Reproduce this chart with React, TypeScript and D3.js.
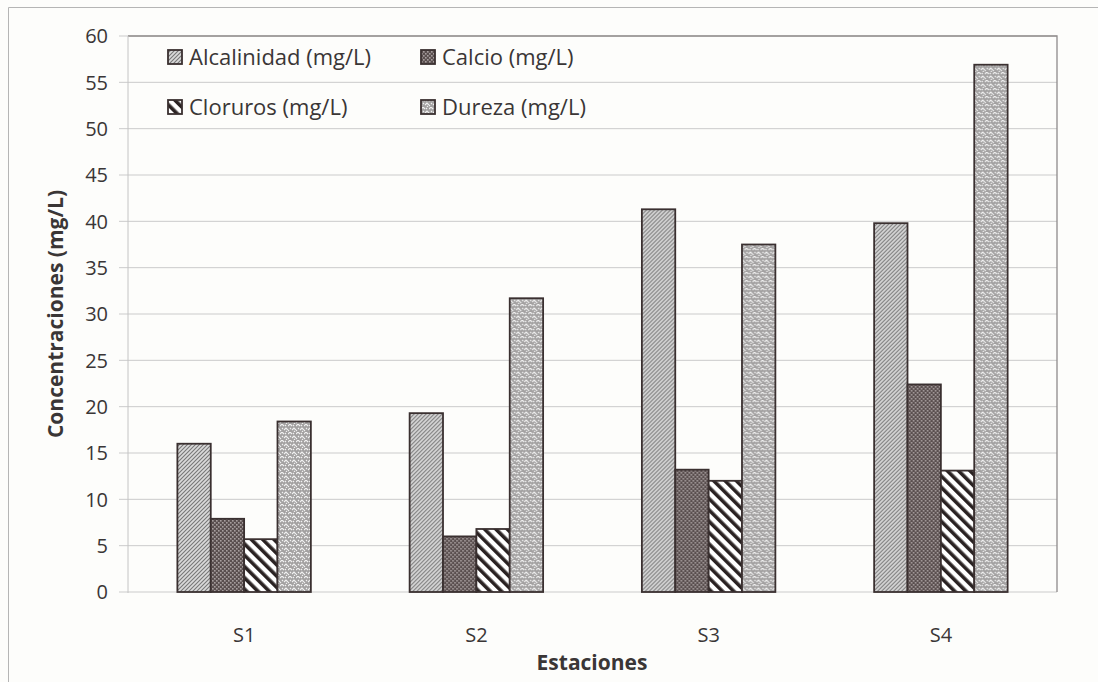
import React from "react";
import * as d3 from "d3";

const stations = ["S1", "S2", "S3", "S4"];
const seriesNames = ["Alcalinidad (mg/L)", "Calcio (mg/L)", "Cloruros (mg/L)", "Dureza (mg/L)"];
const alcalinidad = [16.0, 19.3, 41.3, 39.8];
const calcio = [7.9, 6.0, 13.2, 22.4];
const cloruros = [5.7, 6.8, 12.0, 13.1];
const dureza = [18.4, 31.7, 37.5, 56.9];
const yTicks = [0, 5, 10, 15, 20, 25, 30, 35, 40, 45, 50, 55, 60];

const seriesValues = [alcalinidad, calcio, cloruros, dureza];
const patternIds = ["pAlc", "pCal", "pClo", "pDur"];

const W = 1098;
const H = 682;
const left = 128;
const right = 1057;
const top = 36;
const bottom = 592;
const textColor = "#3a3636";
const font = "'Open Sans', sans-serif";

export default function App() {
  const x0 = d3.scaleBand<string>().domain(stations).range([left, right]).paddingInner(0).paddingOuter(0);
  const x1 = d3
    .scaleBand<string>()
    .domain(seriesNames)
    .range([0, x0.bandwidth()])
    .paddingInner(0)
    .paddingOuter(1.48);
  const y = d3.scaleLinear().domain([0, 60]).range([bottom, top]);

  const legendPos = [
    { x: 168, y: 57 },
    { x: 421, y: 57 },
    { x: 168, y: 107 },
    { x: 421, y: 107 },
  ];

  return (
    <svg
      width={W}
      height={H}
      style={{ position: "absolute", left: 0, top: 0, background: "#fdfdfb" }}
      fontFamily={font}
    >
      <defs>
        <pattern id="pAlc" patternUnits="userSpaceOnUse" width="4" height="4">
          <rect width="4" height="4" fill="#dadada" />
          <path d="M-1,1 l2,-2 M0,4 l4,-4 M3,5 l2,-2" stroke="#777" strokeWidth="1.1" />
        </pattern>
        <pattern id="pCal" patternUnits="userSpaceOnUse" width="4" height="4">
          <rect width="4" height="4" fill="#5a4f4f" />
          <rect x="0" y="0" width="1.6" height="1.6" fill="#a79e9e" />
          <rect x="2" y="2" width="1.6" height="1.6" fill="#a79e9e" />
        </pattern>
        <pattern
          id="pClo"
          patternUnits="userSpaceOnUse"
          width="8"
          height="8"
          patternTransform="rotate(-45)"
        >
          <rect width="8" height="8" fill="#ffffff" />
          <rect width="3.6" height="8" fill="#2a2222" />
        </pattern>
        <pattern id="pDur" patternUnits="userSpaceOnUse" width="8" height="8">
          <rect width="8" height="8" fill="#a3a1a1" />
          <path
            d="M0,2 L2,0 L4,2 M4,6 L6,4 L8,6 M0,6 L1,7 M5,1 L6,2 M2,4 L3,5 M6,8 L7,7"
            stroke="#f2f2f2"
            strokeWidth="1.1"
            fill="none"
          />
        </pattern>
      </defs>

      {/* outer frame */}
      <path d={`M8.5,682 V7.5 H1098`} fill="none" stroke="#b5b5b5" strokeWidth="1" />

      {/* gridlines and ticks */}
      {yTicks.map((t) => (
        <g key={t}>
          <line x1={left - 9} x2={right} y1={y(t)} y2={y(t)} stroke="#cbcbcb" strokeWidth="1" />
          <text
            x={108}
            y={y(t)}
            dy="0.36em"
            textAnchor="end"
            fontSize="20"
            fill={textColor}
          >
            {t}
          </text>
        </g>
      ))}
      {/* plot area border */}
      <path d={`M${left},${top} H${right} V${bottom}`} fill="none" stroke="#8f8b8b" strokeWidth="1.3" />
      <line x1={left} x2={left} y1={top} y2={bottom + 1} stroke="#c4c4c4" strokeWidth="1" />

      {/* bars */}
      {stations.map((s, i) => (
        <g key={s} transform={`translate(${x0(s)},0)`}>
          {seriesNames.map((name, k) => {
            const v = seriesValues[k][i];
            return (
              <rect
                key={name}
                x={x1(name)}
                y={y(v)}
                width={x1.bandwidth()}
                height={y(0) - y(v)}
                fill={`url(#${patternIds[k]})`}
                stroke="#3a3030"
                strokeWidth="1.8"
              />
            );
          })}
        </g>
      ))}

      {/* x labels */}
      {stations.map((s) => (
        <text
          key={s}
          x={(x0(s) as number) + x0.bandwidth() / 2}
          y={642}
          textAnchor="middle"
          fontSize="20"
          fill={textColor}
        >
          {s}
        </text>
      ))}

      {/* legend */}
      {seriesNames.map((name, k) => (
        <g key={name} transform={`translate(${legendPos[k].x},${legendPos[k].y})`}>
          <rect x={0} y={-7} width={14} height={14} fill={`url(#${patternIds[k]})`} stroke="#3a3030" strokeWidth="1.8" />
          <text x={21} y={0} dy="0.36em" fontSize="22" fill={textColor}>
            {name}
          </text>
        </g>
      ))}

      {/* axis titles */}
      <text
        transform={`translate(63,${(top + bottom) / 2}) rotate(-90)`}
        textAnchor="middle"
        fontSize="21"
        fontWeight="bold"
        fill={textColor}
      >
        Concentraciones (mg/L)
      </text>
      <text x={592} y={670} textAnchor="middle" fontSize="21" fontWeight="bold" fill={textColor}>
        Estaciones
      </text>
    </svg>
  );
}
